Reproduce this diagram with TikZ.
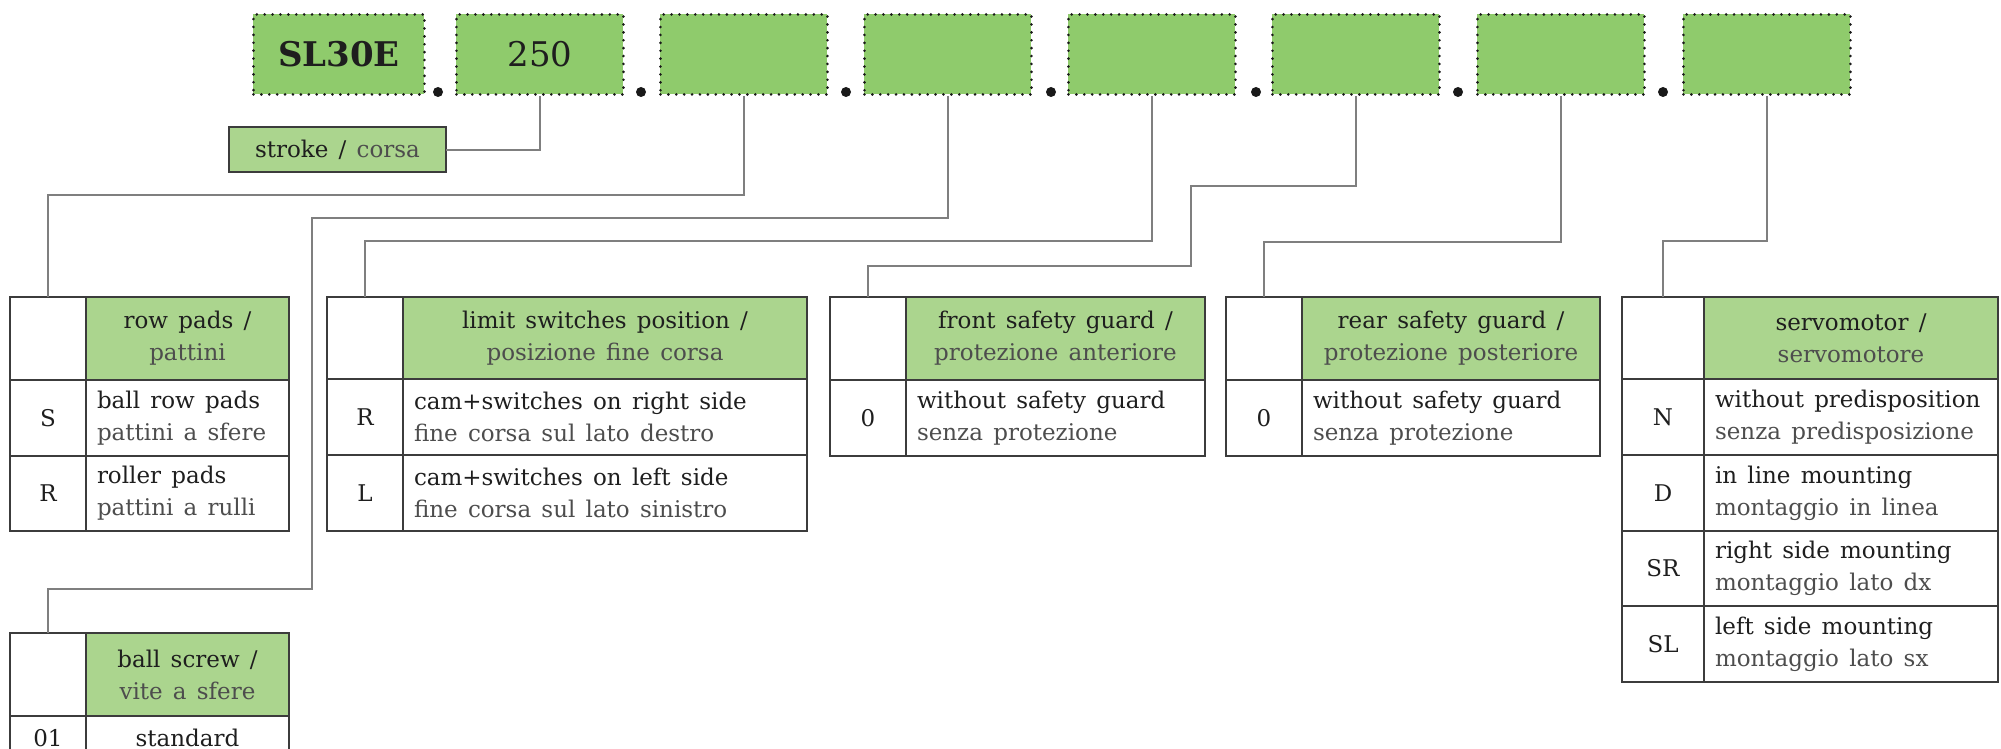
\documentclass[tikz,border=0pt]{standalone}
\usepackage{fontspec}
\setmainfont{DejaVu Serif}[WordSpace=1.4]
\definecolor{topgreen}{HTML}{8FCB6C}
\definecolor{hdrgreen}{HTML}{ABD58E}
\definecolor{tline}{HTML}{3C3C3C}
\definecolor{conn}{HTML}{7F7F7F}
\definecolor{engtxt}{HTML}{1E1E1E}
\definecolor{ittxt}{HTML}{4D4D4D}
\newcommand\itl[1]{{\color{ittxt}#1}}
\newcommand\tabfont{\fontsize{23}{32}\selectfont}
\newcommand\widesp{\spaceskip=0.445em\relax}
\begin{document}
\begin{tikzpicture}[x=1pt,y=-1pt,
  topbox/.style={fill=topgreen, draw=black!90, line width=2.9pt, dash pattern=on 0pt off 7.9pt, line cap=round, minimum height=80pt, inner sep=0pt, anchor=north west, font=\fontsize{34}{40}\selectfont, text=engtxt},
  bigdot/.style={circle, fill=black!90, inner sep=0pt, minimum size=10pt},
  base/.style={draw=tline, line width=1.6pt, inner sep=0pt, outer sep=0pt, anchor=north west, font=\tabfont, text=engtxt},
  hdr/.style={base, fill=hdrgreen, align=center},
  hdc/.style={base, fill=white},
  cd/.style={base, align=center},
  ds/.style={base, align=left, inner xsep=11pt, execute at begin node=\widesp},
  wire/.style={draw=conn, line width=2pt}
]
\useasboundingbox (0,0) rectangle (2001,749);
\clip (0,0) rectangle (2001,749);

% top code boxes
\node[topbox, minimum width=171pt] (b1) at (252,13) {\bfseries SL30E};
\node[topbox, minimum width=167pt] (b2) at (455,13) {250};
\node[topbox, minimum width=167pt] (b3) at (659,13) {};
\node[topbox, minimum width=167pt] (b4) at (863,13) {};
\node[topbox, minimum width=167pt] (b5) at (1067,13) {};
\node[topbox, minimum width=167pt] (b6) at (1271,13) {};
\node[topbox, minimum width=167pt] (b7) at (1476,13) {};
\node[topbox, minimum width=167pt] (b8) at (1682,13) {};
\node[bigdot] (d1) at (438,92) {};
\node[bigdot] (d2) at (641,92) {};
\node[bigdot] (d3) at (846,92) {};
\node[bigdot] (d4) at (1051,92) {};
\node[bigdot] (d5) at (1256,92) {};
\node[bigdot] (d6) at (1458,92) {};
\node[bigdot] (d7) at (1663,92) {};

% stroke box
\node[base, fill=hdrgreen, minimum width=217pt, minimum height=45pt] (stroke) at (229,127) {stroke / \itl{corsa}};

% row pads
\node[hdc, minimum width=76pt, minimum height=83pt] (rp-h0) at (10,297) {};
\node[hdr, minimum width=203pt, minimum height=83pt] (rp-h) at (86,297) {row pads /\\\itl{pattini}};
\node[cd, minimum width=76pt, minimum height=76pt] (rp-c1) at (10,380) {S};
\node[ds, text width=181pt, minimum height=76pt] (rp-d1) at (86,380) {ball row pads\\\itl{pattini a sfere}};
\node[cd, minimum width=76pt, minimum height=75pt] (rp-c2) at (10,456) {R};
\node[ds, text width=181pt, minimum height=75pt] (rp-d2) at (86,456) {roller pads\\\itl{pattini a rulli}};

% ball screw
\node[hdc, minimum width=76pt, minimum height=83pt] (bs-h0) at (10,633) {};
\node[hdr, minimum width=203pt, minimum height=83pt] (bs-h) at (86,633) {ball screw /\\\itl{vite a sfere}};
\node[cd, minimum width=76pt, minimum height=44pt] (bs-c1) at (10,716) {01};
\node[cd, minimum width=203pt, minimum height=44pt] (bs-d1) at (86,716) {standard};

% limit switches
\node[hdc, minimum width=76pt, minimum height=82pt] (ls-h0) at (327,297) {};
\node[hdr, minimum width=404pt, minimum height=82pt] (ls-h) at (403,297) {limit switches position /\\\itl{posizione fine corsa}};
\node[cd, minimum width=76pt, minimum height=76pt] (ls-c1) at (327,379) {R};
\node[ds, text width=382pt, minimum height=76pt] (ls-d1) at (403,379) {cam+switches on right side\\\itl{fine corsa sul lato destro}};
\node[cd, minimum width=76pt, minimum height=76pt] (ls-c2) at (327,455) {L};
\node[ds, text width=382pt, minimum height=76pt] (ls-d2) at (403,455) {cam+switches on left side\\\itl{fine corsa sul lato sinistro}};

% front safety guard
\node[hdc, minimum width=76pt, minimum height=83pt] (fs-h0) at (830,297) {};
\node[hdr, minimum width=299pt, minimum height=83pt] (fs-h) at (906,297) {front safety guard /\\\itl{protezione anteriore}};
\node[cd, minimum width=76pt, minimum height=76pt] (fs-c1) at (830,380) {0};
\node[ds, text width=277pt, minimum height=76pt] (fs-d1) at (906,380) {without safety guard\\\itl{senza protezione}};

% rear safety guard
\node[hdc, minimum width=76pt, minimum height=83pt] (rs-h0) at (1226,297) {};
\node[hdr, minimum width=298pt, minimum height=83pt] (rs-h) at (1302,297) {rear safety guard /\\\itl{protezione posteriore}};
\node[cd, minimum width=76pt, minimum height=76pt] (rs-c1) at (1226,380) {0};
\node[ds, text width=276pt, minimum height=76pt] (rs-d1) at (1302,380) {without safety guard\\\itl{senza protezione}};

% servomotor
\node[hdc, minimum width=82pt, minimum height=82pt] (sv-h0) at (1622,297) {};
\node[hdr, minimum width=294pt, minimum height=82pt] (sv-h) at (1704,297) {servomotor /\\\itl{servomotore}};
\node[cd, minimum width=82pt, minimum height=76pt] (sv-c1) at (1622,379) {N};
\node[ds, text width=272pt, minimum height=76pt] (sv-d1) at (1704,379) {without predisposition\\\itl{senza predisposizione}};
\node[cd, minimum width=82pt, minimum height=76pt] (sv-c2) at (1622,455) {D};
\node[ds, text width=272pt, minimum height=76pt] (sv-d2) at (1704,455) {in line mounting\\\itl{montaggio in linea}};
\node[cd, minimum width=82pt, minimum height=75pt] (sv-c3) at (1622,531) {SR};
\node[ds, text width=272pt, minimum height=75pt] (sv-d3) at (1704,531) {right side mounting\\\itl{montaggio lato dx}};
\node[cd, minimum width=82pt, minimum height=76pt] (sv-c4) at (1622,606) {SL};
\node[ds, text width=272pt, minimum height=76pt] (sv-d4) at (1704,606) {left side mounting\\\itl{montaggio lato sx}};

% bend points
\coordinate (k4) at (312,589);
\coordinate (k6) at (1191,266);

% connectors
\draw[wire] (b2.south) |- (stroke.east);
\draw[wire] (b3.south) -- ++(0,99) -| (rp-h0.north);
\draw[wire] (b4.south) -- ++(0,122) -| (k4) -| (bs-h0.north);
\draw[wire] (b5.south) -- ++(0,145) -| (ls-h0.north);
\draw[wire] (b6.south) -- ++(0,90) -| (k6) -| (fs-h0.north);
\draw[wire] (b7.south) -- ++(0,146) -| (rs-h0.north);
\draw[wire] (b8.south) -- ++(0,145) -| (sv-h0.north);
\end{tikzpicture}
\end{document}
